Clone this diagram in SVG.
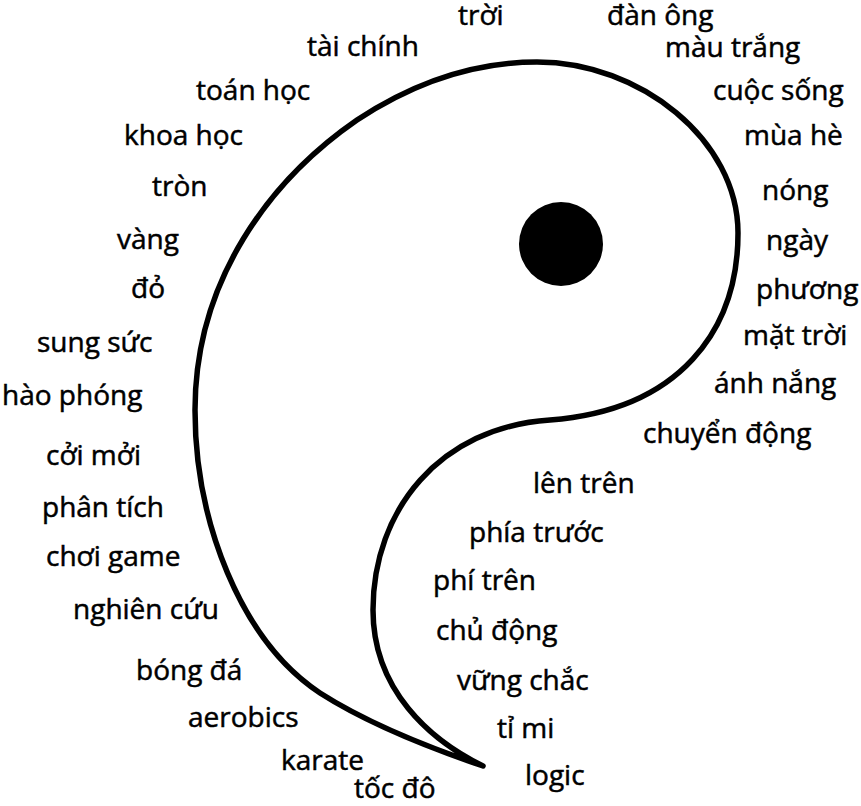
<svg xmlns="http://www.w3.org/2000/svg" width="861" height="806" viewBox="0 0 861 806">
<style>
.t{font-family:"Open Sans","Noto Sans","DejaVu Sans",sans-serif;font-size:28px;fill:#000;stroke:#000;stroke-width:0.5}
.o{fill:none;stroke:#000;stroke-width:5.5;stroke-linejoin:round}
</style>
<rect width="861" height="806" fill="#fff"/>
<g id="shape">
<path class="o" d="M483 766 C430 748 370 725 320 693 C240 640 195 520 195 410 C195 280 270 180 357 120 C410 85 470 62 537 62 C640 62 738 140 738 233 C738 330 680 410 550 420 C440 427 373 510 373 610 C373 690 430 740 483 766 Z"/>
<circle id="dot" cx="561" cy="244" r="42" fill="#000"/>
</g>
<g id="labels">
<text class="t" x="458" y="25">trời</text>
<text class="t" x="607" y="25">đàn ông</text>
<text class="t" x="307" y="56">tài chính</text>
<text class="t" x="665" y="57">màu trắng</text>
<text class="t" x="196" y="100">toán học</text>
<text class="t" x="713" y="100">cuộc sống</text>
<text class="t" x="124" y="145">khoa học</text>
<text class="t" x="744" y="145">mùa hè</text>
<text class="t" x="152" y="196">tròn</text>
<text class="t" x="762" y="200">nóng</text>
<text class="t" x="117" y="249">vàng</text>
<text class="t" x="766" y="250">ngày</text>
<text class="t" x="131" y="298">đỏ</text>
<text class="t" x="756" y="299">phương</text>
<text class="t" x="37" y="352">sung sức</text>
<text class="t" x="743" y="345">mặt trời</text>
<text class="t" x="2" y="405">hào phóng</text>
<text class="t" x="714" y="393">ánh nắng</text>
<text class="t" x="46" y="465">cởi mởi</text>
<text class="t" x="643" y="443">chuyển động</text>
<text class="t" x="533" y="493">lên trên</text>
<text class="t" x="42" y="517">phân tích</text>
<text class="t" x="469" y="542">phía trước</text>
<text class="t" x="46" y="566">chơi game</text>
<text class="t" x="433" y="590">phí trên</text>
<text class="t" x="73" y="619">nghiên cứu</text>
<text class="t" x="436" y="640">chủ động</text>
<text class="t" x="136" y="680">bóng đá</text>
<text class="t" x="457" y="690">vững chắc</text>
<text class="t" x="188" y="727">aerobics</text>
<text class="t" x="497" y="738">tỉ mi</text>
<text class="t" x="281" y="770">karate</text>
<text class="t" x="525" y="785">logic</text>
<text class="t" x="354" y="798">tốc đô</text>
</g>
</svg>
